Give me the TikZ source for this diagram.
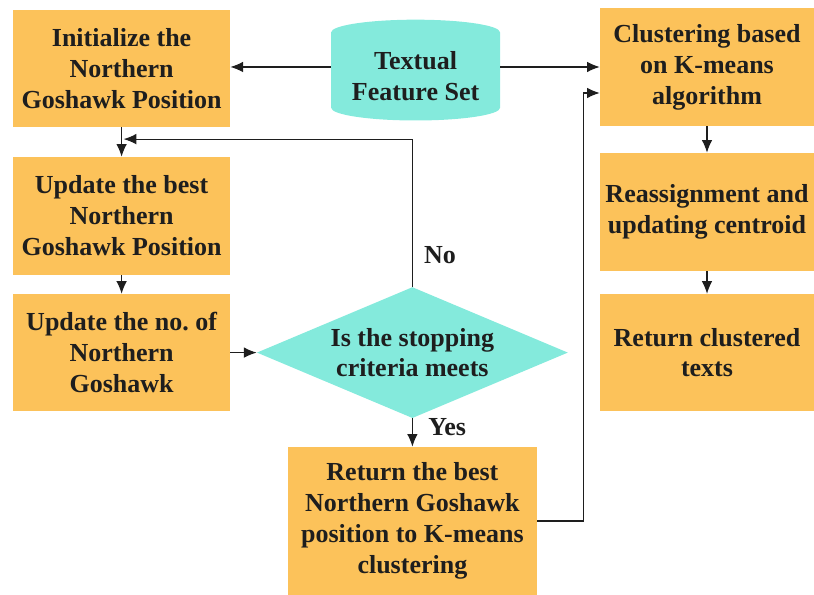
\documentclass[tikz,border=0pt]{standalone}
\usepackage{fontspec}
\setmainfont{Liberation Serif}
\usepackage{tikz}
\usetikzlibrary{arrows}
\usetikzlibrary{arrows.meta}
\usetikzlibrary{shapes.geometric}
\usetikzlibrary{positioning}
\usetikzlibrary{calc}
\definecolor{boxorange}{RGB}{252,194,90}
\definecolor{boxcyan}{RGB}{132,234,220}
\definecolor{ink}{RGB}{30,30,30}
\tikzset{box/.style = {fill = boxorange, inner sep = 0, align = center, text = ink,
    font = \fontsize{18.5}{22}\selectfont\bfseries}}
\tikzset{db/.style = {cylinder, shape border rotate = 90, aspect = 0.2, fill = boxcyan,
    inner sep = 0, align = center, text = ink, font = \fontsize{18.5}{22}\selectfont\bfseries}}
\tikzset{decision/.style = {diamond, aspect = 2.37, fill = boxcyan, inner sep = 0,
    align = center, text = ink, font = \fontsize{18.5}{22}\selectfont\bfseries}}
\tikzset{arr/.style = {-{Latex[length = 9pt, width = 7.5pt]}, line width = 0.8pt, draw = ink}}
\tikzset{lbl/.style = {text = ink, font = \fontsize{18.5}{22}\selectfont\bfseries}}
\begin{document}
\begin{tikzpicture}
      \useasboundingbox (0, 0) rectangle (20.35, 14.875);

      \node [box, minimum width = 5.425cm, minimum height = 2.925cm] (initpos) at (3.04, 13.16)
        {Initialize the\\Northern\\Goshawk Position};
      \node [box, minimum width = 5.425cm, minimum height = 2.95cm] (bestpos) at (3.04, 9.475)
        {Update the best\\Northern\\Goshawk Position};
      \node [box, minimum width = 5.425cm, minimum height = 2.925cm] (numpos) at (3.04, 6.06)
        {Update the no.\ of\\Northern\\Goshawk};

      \node [db, minimum width = 4.225cm, minimum height = 2.52cm] (featset) at (10.39, 12.96)
        {Textual\\Feature Set};

      \node [box, minimum width = 5.35cm, minimum height = 2.95cm] (kmeans) at (17.675, 13.2)
        {Clustering based\\on K-means\\algorithm};
      \node [box, minimum width = 5.35cm, minimum height = 2.95cm] (reassign) at (17.675, 9.575)
        {Reassignment and\\updating centroid};
      \node [box, minimum width = 5.35cm, minimum height = 2.925cm] (clustered) at (17.675, 6.06)
        {Return clustered\\texts};

      \node [decision, minimum width = 7.775cm, minimum height = 3.275cm] (stopcrit) at (10.31, 6.06)
        {Is the stopping\\criteria meets};
      \node [box, minimum width = 6.225cm, minimum height = 3.7cm] (retbest) at (10.31, 1.85)
        {Return the best\\Northern Goshawk\\position to K-means\\clustering};

      \node [lbl] (nolbl) at (11.0, 8.5) {No};
      \node [lbl] (yeslbl) at (11.18, 4.2) {Yes};

      \coordinate (merge) at ($(initpos.south)!0.4!(bestpos.north)$);
      \coordinate (kmin) at ([yshift = -0.65cm] kmeans.west);
      \coordinate (featl) at ([yshift = 0.24cm] featset.west);
      \coordinate (featr) at ([yshift = 0.24cm] featset.east);

      \draw [arr] (featl) -- (featl -| initpos.east);
      \draw [arr] (featr) -- (featr -| kmeans.west);
      \draw [arr] (initpos) -- (bestpos);
      \draw [arr] (bestpos) -- (numpos);
      \draw [arr] (numpos.east) -- (stopcrit.west);
      \draw [arr] (stopcrit.north) |- ([xshift = 0.05cm] merge);
      \draw [arr] (stopcrit.south) -- (retbest.north);
      \draw [arr] (retbest.east) -- ++(1.15, 0) |- (kmin);
      \draw [arr] (kmeans) -- (reassign);
      \draw [arr] (reassign) -- (clustered);
    \end{tikzpicture}
\end{document}
